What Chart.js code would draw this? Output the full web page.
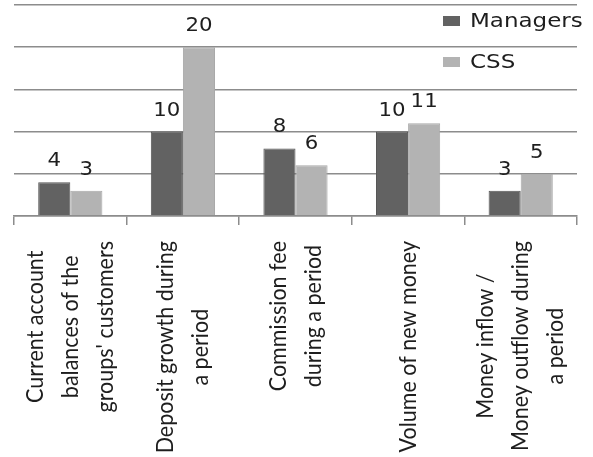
<!DOCTYPE html>
<html>
<head>
<meta charset="utf-8">
<script src="https://cdn.jsdelivr.net/npm/chart.js@4/dist/chart.umd.min.js"></script>
<style>
  html, body { margin: 0; padding: 0; background: #ffffff; }
  #wrap { width: 593px; height: 457px; }
</style>
</head>
<body>
<div id="wrap"><canvas id="c" width="593" height="457"></canvas></div>
<script>
// Categories (each entry is the list of lines of its rotated label)
const categories = [
  ["Current account", "balances of the", "groups' customers"],
  ["Deposit growth during", "a period"],
  ["Commission fee", "during a period"],
  ["Volume of new money"],
  ["Money inflow /", "Money outflow during", "a period"]
];
const seriesNames = ["Managers", "CSS"];
const managers = [4, 10, 8, 10, 3];
const css = [3, 20, 6, 11, 5];
const yTicks = [0, 5, 10, 15, 20, 25];

const GRID = '#8c8c8c';
const INK = '#1e1e1e';

// Numbers printed above each bar
const valueLabels = {
  id: 'valueLabels',
  afterDatasetsDraw(chart) {
    const ctx = chart.ctx;
    ctx.save();
    ctx.font = '19px "DejaVu Sans", Verdana, sans-serif';
    ctx.fillStyle = INK;
    ctx.textAlign = 'center';
    ctx.textBaseline = 'alphabetic';
    chart.data.datasets.forEach((ds, di) => {
      const meta = chart.getDatasetMeta(di);
      meta.data.forEach((bar, i) => {
        ctx.save();
        ctx.translate(bar.x, bar.y - 16);
        ctx.scale(1.12, 1);
        ctx.fillText(String(ds.data[i]), 0, 0);
        ctx.restore();
      });
    });
    ctx.restore();
  }
};

// Vertical category labels under the axis, lines centred on each other
const categoryLabels = {
  id: 'categoryLabels',
  afterDraw(chart) {
    const ctx = chart.ctx;
    const xs = chart.scales.x;
    const top = chart.chartArea.bottom + 25;
    const lineGap = 35;
    ctx.save();
    ctx.font = '21.5px Lato, "Open Sans", sans-serif';
    ctx.fillStyle = INK;
    ctx.textAlign = 'center';
    ctx.textBaseline = 'middle';
    categories.forEach((lines, i) => {
      const cx = xs.getPixelForValue(i);
      const maxW = Math.max(...lines.map(l => ctx.measureText(l).width));
      lines.forEach((line, j) => {
        const lx = cx + (j - (lines.length - 1) / 2) * lineGap;
        ctx.save();
        ctx.translate(lx, top + maxW / 2);
        ctx.rotate(-Math.PI / 2);
        ctx.scale(1, 1.1);
        ctx.fillText(line, 0, 0);
        ctx.restore();
      });
    });
    ctx.restore();
  }
};

// Legend stacked in the upper right corner of the plot
const cornerLegend = {
  id: 'cornerLegend',
  afterDraw(chart) {
    const ctx = chart.ctx;
    ctx.save();
    ctx.font = '20px "DejaVu Sans", Verdana, sans-serif';
    ctx.textBaseline = 'alphabetic';
    ctx.textAlign = 'left';
    chart.data.datasets.forEach((ds, i) => {
      const y = 16 + i * 41;
      ctx.fillStyle = ds.backgroundColor;
      ctx.fillRect(443, y, 17, 10);
      ctx.fillStyle = INK;
      ctx.save();
      ctx.translate(470, y + 11);
      ctx.scale(1.15, 1);
      ctx.fillText(ds.label, 0, 0);
      ctx.restore();
    });
    ctx.restore();
  }
};

new Chart(document.getElementById('c'), {
  type: 'bar',
  data: {
    labels: categories,
    datasets: [
      { label: seriesNames[0], data: managers, backgroundColor: '#626262', borderColor: '#555555', borderWidth: 1 },
      { label: seriesNames[1], data: css, backgroundColor: '#b3b3b3', borderColor: '#a8a8a8', borderWidth: 1 }
    ]
  },
  options: {
    responsive: false,
    devicePixelRatio: 1,
    animation: false,
    layout: { padding: { top: 5, left: 14, right: 16, bottom: 0 } },
    plugins: { legend: { display: false }, tooltip: { enabled: false } },
    datasets: { bar: { barPercentage: 1, categoryPercentage: 0.57 } },
    scales: {
      x: {
        grid: { offset: true, drawOnChartArea: false, drawTicks: true, tickLength: 9, color: GRID, lineWidth: 1.5 },
        border: { display: true, color: GRID, width: 1.5 },
        ticks: { display: false },
        afterFit(scale) { scale.height = 241; }
      },
      y: {
        min: yTicks[0],
        max: yTicks[yTicks.length - 1],
        afterBuildTicks(scale) { scale.ticks = yTicks.map(v => ({ value: v })); },
        ticks: { display: false },
        grid: { color: GRID, lineWidth: 1.5, drawTicks: false },
        border: { display: false }
      }
    }
  },
  plugins: [valueLabels, categoryLabels, cornerLegend]
});
</script>
</body>
</html>
